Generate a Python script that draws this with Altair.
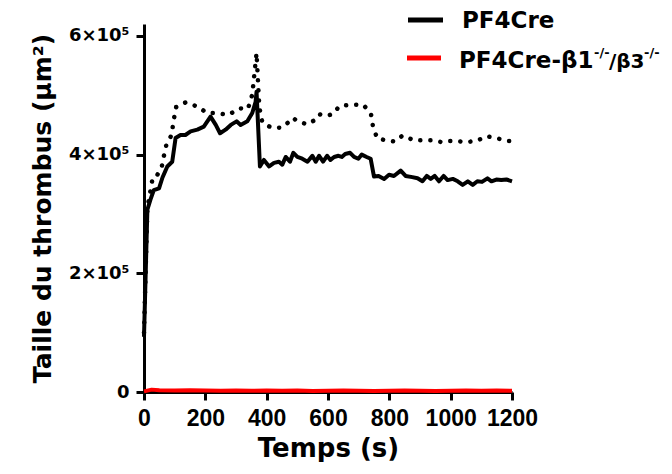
import altair as alt
import pandas as pd

# ---- data ----
SERIES = ["PF4Cre", "PF4Cre-β1-/-/β3-/-"]

ctrl_t = [0, 11, 21, 32, 49, 60, 76, 92, 103, 119, 135, 152, 174, 195, 217, 234, 248, 266, 283, 302,
          315, 337, 353, 364, 367, 378, 391, 408, 424, 440, 451, 462, 476, 487, 500, 516, 533, 549, 560, 571,
          584, 597, 608, 620, 634, 645, 656, 672, 685, 699, 710, 726, 739, 750, 765, 783, 799, 815, 837, 853,
          875, 892, 908, 922, 935, 948, 962, 977, 990, 1007, 1023, 1039, 1056, 1072, 1087, 1102, 1120, 1133, 1149, 1165,
          1182, 1200]
ctrl_v = [93, 307, 324, 340, 343, 361, 380, 388, 428, 433, 433, 439, 442, 447, 464, 450, 436, 442, 450, 456,
          450, 456, 470, 489, 506, 380, 391, 380, 386, 388, 383, 396, 388, 403, 396, 393, 388, 398, 388, 398,
          388, 398, 391, 396, 398, 396, 401, 403, 396, 393, 400, 396, 393, 363, 364, 359, 366, 364, 373, 364,
          362, 360, 355, 364, 359, 364, 355, 364, 357, 359, 355, 349, 355, 349, 355, 354, 360, 355, 358, 357,
          358, 355]

upper_t = [0, 11, 19, 27, 34, 49, 57, 65, 74, 78, 90, 96, 105, 136, 174, 206, 234, 277, 310, 339,
           353, 367, 376, 386, 413, 448, 470, 486, 500, 533, 553, 571, 593, 615, 638, 680, 715, 740, 747, 761,
           791, 819, 843, 881, 916, 943, 970, 987, 1020, 1049, 1085, 1117, 1147, 1186, 1200]
upper_v = [100, 310, 333, 357, 357, 371, 377, 398, 419, 422, 433, 456, 480, 488, 481, 470, 470, 467, 478, 477,
           501, 571, 480, 454, 446, 445, 454, 462, 456, 451, 457, 468, 465, 468, 482, 484, 484, 469, 446, 427,
           424, 422, 432, 424, 424, 424, 421, 423, 423, 421, 423, 431, 428, 423, 423]

ko_t = [0, 25, 50, 100, 150, 200, 250, 300, 350, 400, 450, 500, 550, 600, 650, 700, 750, 800, 850, 900,
        950, 1000, 1050, 1100, 1150, 1200]
ko_v = [1.0, 4.0, 3.0, 2.5, 3.0, 2.5, 2.0, 2.5, 2.0, 2.5, 2.0, 2.5, 1.5, 2.0, 2.5, 2.0, 1.5, 2.0, 2.5, 2.0,
        1.5, 2.0, 2.5, 2.0, 2.5, 2.0]

X_TICKS = [0, 200, 400, 600, 800, 1000, 1200]
Y_TICKS = [0, 200000, 400000, 600000]

assert len(ctrl_t) == len(ctrl_v) and len(upper_t) == len(upper_v) and len(ko_t) == len(ko_v)

mean_df = pd.concat([
    pd.DataFrame({"t": ctrl_t, "v": [x * 1000 for x in ctrl_v], "s": SERIES[0]}),
    pd.DataFrame({"t": ko_t, "v": [x * 1000 for x in ko_v], "s": SERIES[1]}),
])
upper_df = pd.DataFrame({"t": upper_t, "v": [x * 1000 for x in upper_v]})

FONT = "Liberation Sans"
WFONT = "DejaVu Sans"

xs = alt.Scale(domain=[0, 1200], nice=False)
ys = alt.Scale(domain=[0, 620000], nice=False)

x_enc = alt.X("t:Q", scale=xs, axis=alt.Axis(
    values=X_TICKS, title="Temps (s)", labelFont=FONT, labelFontSize=23, labelPadding=7, format="d",
    labelOverlap=False, labelFlush=False, titleFont=WFONT, titleFontSize=26, titlePadding=5))
y_enc = alt.Y("v:Q", scale=ys, axis=alt.Axis(
    values=Y_TICKS, title="Taille du thrombus (µm²)", labelFont=WFONT, labelFontSize=18, labelPadding=7,
    labelOverlap=False, labelFlush=False,
    labelExpr="datum.value == 0 ? '0' : format(datum.value / 100000, 'd') + '×10⁵'",
    titleFont=WFONT, titleFontSize=25, titlePadding=13))

upper_line = alt.Chart(upper_df).mark_line(
    strokeWidth=4.5, strokeCap="round", strokeDash=[0.1, 10], color="#000000"
).encode(x=x_enc, y=y_enc)

mean_lines = alt.Chart(mean_df).mark_line(strokeWidth=4, strokeJoin="round").encode(
    x=x_enc, y=y_enc,
    color=alt.Color("s:N", scale=alt.Scale(domain=SERIES, range=["#000000", "#ff0000"]), legend=None),
    order=alt.Order("t:Q"),
)

one = lambda s: pd.DataFrame({"label": [s]})

leg_black = alt.Chart(one(SERIES[0])).mark_rule(color="#000000", strokeWidth=5).encode(
    x=alt.value(264), x2=alt.value(299), y=alt.value(-4))
leg_red = alt.Chart(one(SERIES[1])).mark_rule(color="#ff0000", strokeWidth=5).encode(
    x=alt.value(263), x2=alt.value(297), y=alt.value(34))

txt = dict(font=WFONT, fontWeight="bold", color="#000000", baseline="alphabetic", align="left")
leg_t1 = alt.Chart(one("PF4Cre")).mark_text(fontSize=23, **txt).encode(
    text="label:N", x=alt.value(318), y=alt.value(4))
leg_t2 = alt.Chart(one("PF4Cre-β1")).mark_text(fontSize=23, **txt).encode(
    text="label:N", x=alt.value(315), y=alt.value(44))
leg_s1 = alt.Chart(one("-/-")).mark_text(fontSize=13, **txt).encode(
    text="label:N", x=alt.value(450), y=alt.value(33))
leg_t3 = alt.Chart(one("/β3")).mark_text(fontSize=20, **txt).encode(
    text="label:N", x=alt.value(465), y=alt.value(44))
leg_s2 = alt.Chart(one("-/-")).mark_text(fontSize=13, **txt).encode(
    text="label:N", x=alt.value(500), y=alt.value(33))

chart = alt.layer(
    upper_line, mean_lines, leg_black, leg_red, leg_t1, leg_t2, leg_s1, leg_t3, leg_s2
).properties(
    width=368, height=368,
    padding={"left": 136, "top": 16, "right": 150, "bottom": 70},
    autosize=alt.AutoSizeParams(type="none"),
    background="#ffffff",
).configure_view(stroke=None).configure_axis(
    grid=False, domainColor="#000000", domainWidth=3, tickColor="#000000", tickWidth=3, tickSize=8,
    labelFontWeight="bold", labelColor="#000000",
    titleFontWeight="bold", titleColor="#000000",
)

chart.save("out.html", embed_options={"renderer": "svg", "actions": False})
